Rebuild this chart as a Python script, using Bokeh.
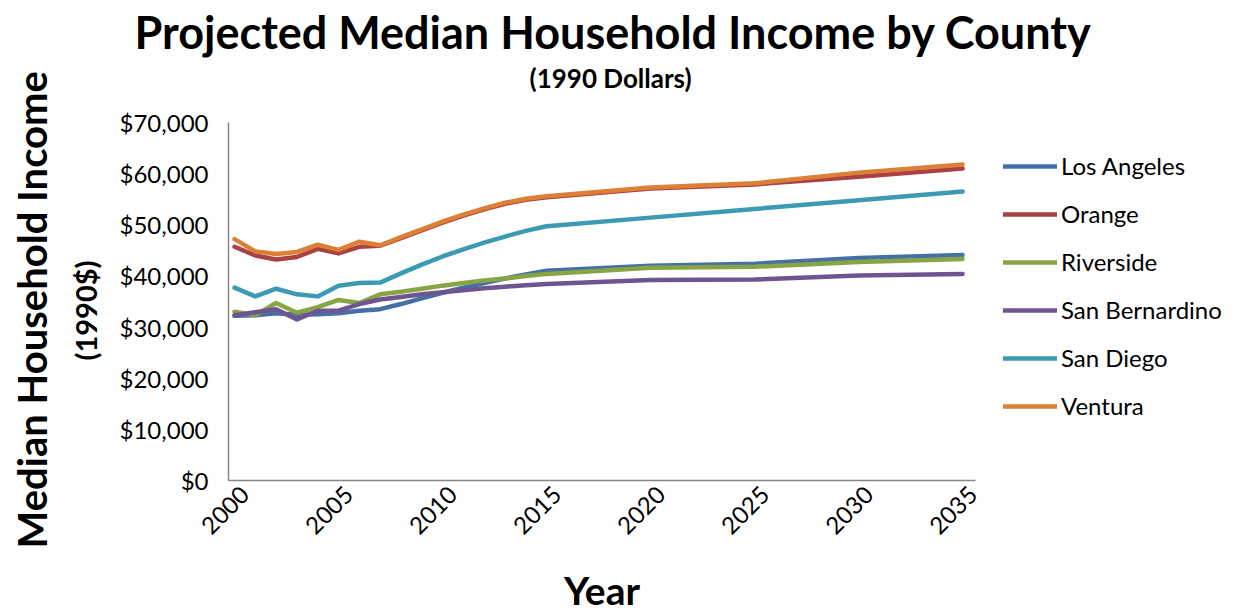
from bokeh.plotting import figure
from bokeh.models import (Range1d, FixedTicker, NumeralTickFormatter, Legend, LegendItem, Title, LinearAxis)
from bokeh.embed import file_html
from bokeh.resources import INLINE
import math

years = [2000, 2001, 2002, 2003, 2004, 2005, 2006, 2007, 2008, 2009, 2010,
         2011, 2012, 2013, 2014, 2015, 2020, 2025, 2030, 2035]

los_angeles = [32200, 32300, 32700, 32400, 32500, 32700, 33200, 33500, 34500, 35600, 36700,
               37700, 38600, 39500, 40300, 41000, 42000, 42400, 43500, 44100]
orange = [45700, 44000, 43200, 43700, 45300, 44400, 45700, 45900, 47400, 48900, 50400,
          51800, 53000, 54100, 54900, 55400, 57100, 57900, 59400, 61000]
riverside = [33000, 32300, 34700, 32800, 33900, 35300, 34700, 36400, 36900, 37500, 38100,
             38600, 39100, 39500, 40000, 40400, 41600, 41800, 42700, 43300]
san_bernardino = [32300, 32900, 33500, 31500, 33200, 33200, 34500, 35400, 35900, 36400, 36800,
                  37200, 37600, 37900, 38200, 38400, 39200, 39300, 40100, 40400]
san_diego = [37700, 36000, 37500, 36400, 36000, 38100, 38600, 38700, 40500, 42200, 43800,
             45200, 46500, 47700, 48800, 49700, 51400, 53100, 54800, 56500]
ventura = [47200, 44800, 44300, 44700, 46100, 45100, 46700, 46000, 47600, 49100, 50600,
           52000, 53200, 54300, 55100, 55600, 57300, 58100, 60200, 61800]

series_names = ["Los Angeles", "Orange", "Riverside", "San Bernardino", "San Diego", "Ventura"]
series_values = [los_angeles, orange, riverside, san_bernardino, san_diego, ventura]
colors = ["#4470A8", "#AA4143", "#88A445", "#6E5590", "#3C9AB2", "#DD8035"]

x_ticks = [2000, 2005, 2010, 2015, 2020, 2025, 2030, 2035]
y_ticks = [0, 10000, 20000, 30000, 40000, 50000, 60000, 70000]

FONT = "Lato"
X_START, X_END = 1999.71, 2035.62
LABEL_SHIFT = 0.5          # rotated year labels sit slightly right of their tick

p = figure(frame_width=747, frame_height=358, output_backend="svg", toolbar_location=None,
           title=None,
           x_range=Range1d(X_START, X_END), y_range=Range1d(0, 70000),
           min_border_left=228, min_border_right=0, min_border_top=122, min_border_bottom=133)
p.outline_line_color = None
p.background_fill_color = "white"
p.border_fill_color = "white"
p.grid.visible = False

renderers = []
for name, vals, col in zip(series_names, series_values, colors):
    r = p.line(years, vals, line_color=col, line_width=4.5, line_join="round", line_cap="round")
    renderers.append(r)

p.xaxis.visible = False
p.extra_x_ranges = {"lab": Range1d(X_START - LABEL_SHIFT, X_END - LABEL_SHIFT)}
xax = LinearAxis(x_range_name="lab")
p.add_layout(xax, "below")

for ax in (xax, p.yaxis[0]):
    ax.axis_line_color = "#868686"
    ax.axis_line_width = 1.5
    ax.major_tick_line_color = None
    ax.minor_tick_line_color = None
    ax.major_label_text_font = FONT
    ax.major_label_text_font_size = "24px"
    ax.major_label_text_color = "#000000"

xax.ticker = FixedTicker(ticks=x_ticks)
xax.major_label_orientation = math.pi / 4
xax.major_label_standoff = 4
xax.axis_label = "Year"
xax.axis_label_text_font = FONT
xax.axis_label_text_font_style = "bold"
xax.axis_label_text_font_size = "39px"
xax.axis_label_text_color = "#000000"
xax.axis_label_standoff = 22

p.yaxis.ticker = FixedTicker(ticks=y_ticks)
p.yaxis.formatter = NumeralTickFormatter(format="$0,0")
p.yaxis.major_label_standoff = 14

sub = Title(text="(1990 Dollars)", align="left", text_font=FONT, text_font_size="26px",
            text_font_style="bold", text_color="#000000", standoff=58, offset=301)
p.add_layout(sub, "above")
main = Title(text="Projected Median Household Income by County", align="left", text_font=FONT,
             text_font_size="45px", text_font_style="bold", text_color="#000000", standoff=-57, offset=-94)
p.add_layout(main, "above")

ysub = Title(text="(1990$)", align="left", text_font=FONT, text_font_size="29px",
             text_font_style="bold", text_color="#000000", standoff=28, offset=120)
p.add_layout(ysub, "left")
ymain = Title(text="Median Household Income", align="left", text_font=FONT, text_font_size="40px",
              text_font_style="bold", text_color="#000000", standoff=-8, offset=-68)
p.add_layout(ymain, "left")

legend = Legend(items=[LegendItem(label=n, renderers=[r]) for n, r in zip(series_names, renderers)],
                location=(28, 60), orientation="vertical")
legend.label_text_font = FONT
legend.label_text_font_size = "24px"
legend.label_text_color = "#000000"
legend.glyph_width = 54
legend.glyph_height = 24
legend.label_height = 24
legend.label_standoff = 4
legend.spacing = 19
legend.padding = 0
legend.margin = 20
legend.border_line_color = None
legend.background_fill_alpha = 0
p.add_layout(legend, "right")

open("out.html", "w").write(file_html(p, INLINE))
